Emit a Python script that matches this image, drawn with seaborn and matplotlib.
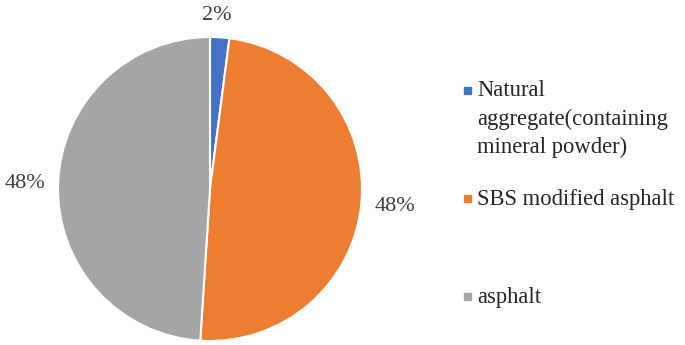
import matplotlib.pyplot as plt
import seaborn as sns
from matplotlib.patches import Rectangle

# Data
categories = ['Natural\naggregate(containing\nmineral powder)', 'SBS modified asphalt', 'asphalt']
values = [2, 48, 48]
colors = ['#4472C4', '#ED7D31', '#A5A5A5']

sns.set_theme(style='white')
plt.rcParams['font.family'] = ['Liberation Serif', 'DejaVu Serif']

fig = plt.figure(figsize=(6.85, 3.45), dpi=100)
ax = fig.add_axes([58 / 685, 4 / 345, 304 / 685, 304 / 345])

wedges, texts = ax.pie(
    values,
    colors=colors,
    startangle=90,
    counterclock=False,
    labels=[f'{v}%' for v in values],
    labeldistance=1.22,
    wedgeprops=dict(edgecolor='white', linewidth=1.5),
    textprops=dict(fontsize=16, color='#404040'),
)
for t in texts:
    t.set_ha('center')
    t.set_va('center')
x0, y0 = texts[0].get_position()
texts[0].set_position((x0 * 0.55, y0 * 0.94))

ax.set_xlim(-1, 1)
ax.set_ylim(-1, 1)
ax.set_aspect('equal')
ax.axis('off')

# legend drawn by hand to match the spread-out layout
legend_y = [90, 198, 296]
for name, color, y in zip(categories, colors, legend_y):
    fig.patches.append(Rectangle((464 / 685, 1 - (y + 3.5) / 345), 7 / 685, 7 / 345,
                                 transform=fig.transFigure, color=color))
    fig.text(477 / 685, 1 - (y - 9.5) / 345, name, fontsize=16.3, color='#262626',
             va='top', ha='left', linespacing=1.45)

fig.savefig('out.png', dpi=100)
